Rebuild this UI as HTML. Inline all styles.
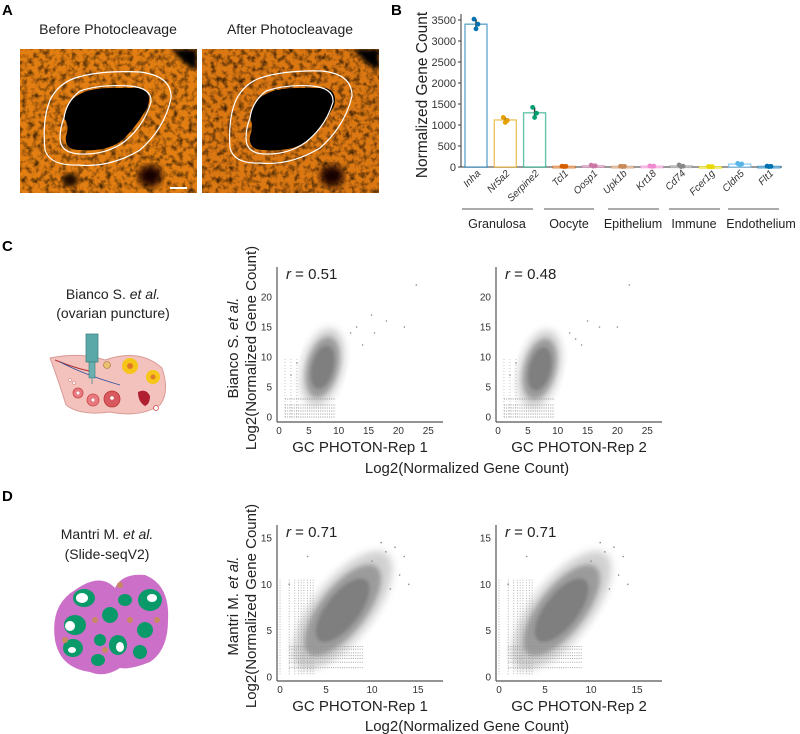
<!DOCTYPE html>
<html><head><meta charset="utf-8">
<style>
html,body{margin:0;padding:0;background:#fff;}
svg{display:block;font-family:"Liberation Sans",Arial,sans-serif;}
</style></head>
<body>
<svg id="fig" width="800" height="734" viewBox="0 0 800 734">
<defs>
  <filter id="tex" x="0" y="0" width="100%" height="100%">
    <feTurbulence type="fractalNoise" baseFrequency="0.18" numOctaves="3" seed="4" result="n"/>
    <feColorMatrix in="n" type="matrix" values="0 0 0 0 0  0 0 0 0 0  0 0 0 0 0  0 0 0 -2.2 1.25" result="d"/>
    <feComposite in="d" in2="SourceGraphic" operator="in"/>
  </filter>
  <filter id="blur1"><feGaussianBlur stdDeviation="1.5"/></filter>
  <filter id="blur2"><feGaussianBlur stdDeviation="2.5"/></filter>
  <filter id="blur4"><feGaussianBlur stdDeviation="4"/></filter>
  <filter id="blur6"><feGaussianBlur stdDeviation="6"/></filter>
  <clipPath id="clipA1"><rect x="20" y="49" width="177" height="144"/></clipPath>
  <clipPath id="clipA2"><rect x="202" y="49" width="177" height="144"/></clipPath>
</defs>

<text x="2" y="15" font-size="15" font-weight="bold">A</text>
<text x="391" y="15" font-size="15" font-weight="bold">B</text>
<text x="2" y="251" font-size="15" font-weight="bold">C</text>
<text x="2" y="501" font-size="15" font-weight="bold">D</text>

<text x="108" y="34" font-size="14" text-anchor="middle" fill="#222">Before Photocleavage</text>
<text x="290" y="34" font-size="14" text-anchor="middle" fill="#222">After Photocleavage</text>

<g clip-path="url(#clipA1)">
  <rect x="20" y="49" width="177" height="144" fill="#e27e12"/>
  <rect x="20" y="49" width="177" height="144" fill="#3a1a00" filter="url(#tex)" opacity="0.7"/>
  <path d="M170,49 L197,49 L197,70 Q185,66 178,56 Z" fill="#000" filter="url(#blur2)"/>
  <ellipse cx="150" cy="176" rx="12" ry="11" fill="#120600" filter="url(#blur4)"/>
  <ellipse cx="70" cy="180" rx="8" ry="7" fill="#201000" filter="url(#blur2)"/>
  <path d="M68,104 Q80,88 110,88 L140,88 Q152,92 148,106 Q136,128 120,142 Q104,152 80,150 Q64,150 66,136 Q70,126 64,118 Z" fill="#000"/>
  <path d="M75,78 Q100,70 140,72 Q172,76 171,98 Q165,128 140,150 Q110,168 78,165 Q50,166 45,150 Q42,120 50,100 Q58,84 75,78 Z" fill="none" stroke="#fff" stroke-width="1.2"/>
  <path d="M80,91 Q100,84 130,86 Q152,88 151,102 Q144,126 124,142 Q106,155 80,154 Q60,153 60,138 Q60,128 64,118 Q66,102 80,91 Z" fill="none" stroke="#fff" stroke-width="1.2"/>
  <rect x="170" y="187" width="17" height="2" fill="#fff"/>
</g>
<g clip-path="url(#clipA2)">
  <rect x="202" y="49" width="177" height="144" fill="#dc7812"/>
  <rect x="202" y="49" width="177" height="144" fill="#3a1a00" filter="url(#tex)" opacity="0.75"/>
  <path d="M352,49 L379,49 L379,70 Q367,66 360,56 Z" fill="#000" filter="url(#blur2)"/>
  <ellipse cx="332" cy="176" rx="12" ry="11" fill="#120600" filter="url(#blur4)"/>
  <path d="M254,104 Q266,88 296,88 L326,88 Q338,92 334,106 Q322,128 306,142 Q290,152 264,150 Q248,150 250,136 Q254,126 250,118 Z" fill="#000"/>
  <path d="M260,78 Q285,70 322,71 Q352,74 352,96 Q345,126 320,148 Q290,166 260,163 Q234,164 230,148 Q228,118 236,100 Q244,84 260,78 Z" fill="none" stroke="#fff" stroke-width="1.2"/>
  <path d="M266,91 Q286,84 312,86 Q334,88 333,102 Q326,126 306,142 Q288,155 264,154 Q246,153 246,138 Q246,128 250,118 Q252,102 266,91 Z" fill="none" stroke="#fff" stroke-width="1.2"/>
</g>

<g id="barChart"></g>

<text x="113" y="299" font-size="14" text-anchor="middle" fill="#222">Bianco S. <tspan font-style="italic">et al.</tspan></text>
<text x="113" y="318" font-size="14" text-anchor="middle" fill="#222">(ovarian puncture)</text>
<g>
  <path d="M50,358 Q80,352 105,360 Q140,348 162,368 Q170,392 160,405 Q140,418 110,412 Q80,416 66,405 Q60,385 50,358 Z" fill="#f3c2bd" stroke="#d99a95" stroke-width="1"/>
  <path d="M55,360 Q80,370 95,372" stroke="#b03030" fill="none" stroke-width="1"/>
  <path d="M60,362 Q85,375 120,385" stroke="#3050a0" fill="none" stroke-width="0.8"/>
  <circle cx="78" cy="393" r="5" fill="#e57b80" stroke="#c44" stroke-width="0.8"/><circle cx="78" cy="393" r="1.5" fill="#fff"/>
  <circle cx="93" cy="400" r="6" fill="#e57b80" stroke="#c44" stroke-width="0.8"/><circle cx="93" cy="400" r="1.5" fill="#fff"/>
  <circle cx="112" cy="399" r="8" fill="#d85a60" stroke="#b33" stroke-width="0.8"/><circle cx="112" cy="398" r="1.8" fill="#fff"/>
  <circle cx="130" cy="366" r="8" fill="#f5c518"/><circle cx="130" cy="366" r="3" fill="#e07a2a"/>
  <circle cx="153" cy="377" r="7" fill="#f5c518"/><circle cx="153" cy="377" r="2.5" fill="#e07a2a"/>
  <circle cx="107" cy="365" r="3.5" fill="#e8c070" stroke="#a07030" stroke-width="0.6"/>
  <path d="M138,392 Q146,388 150,396 Q150,404 145,406 Q138,402 138,392 Z" fill="#b02030"/>
  <circle cx="156" cy="408" r="2.5" fill="#fff" stroke="#d44" stroke-width="0.8"/>
  <circle cx="70" cy="380" r="1.6" fill="#fff" stroke="#d66" stroke-width="0.5"/><circle cx="74" cy="383" r="1.6" fill="#fff" stroke="#d66" stroke-width="0.5"/>
  <rect x="86" y="334" width="12" height="28" fill="#5aa8a8" stroke="#3a7a7a" stroke-width="0.7"/>
  <rect x="89" y="362" width="6" height="16" fill="#6ab0b0" stroke="#3a7a7a" stroke-width="0.6"/>
  <rect x="91" y="378" width="2" height="6" fill="#aaa"/>
</g>

<text x="107" y="539" font-size="14" text-anchor="middle" fill="#222">Mantri M. <tspan font-style="italic">et al.</tspan></text>
<text x="107" y="559" font-size="14" text-anchor="middle" fill="#222">(Slide-seqV2)</text>
<g>
  <path d="M75,590 Q100,572 115,588 Q122,573 145,575 Q170,585 168,620 Q168,650 150,662 Q130,670 120,668 Q105,678 90,672 Q60,668 55,640 Q50,605 75,590 Z" fill="#cc6fc8"/>
  <g fill="#0a9a6a">
    <ellipse cx="84" cy="598" rx="11" ry="9"/><ellipse cx="75" cy="625" rx="11" ry="10"/>
    <ellipse cx="73" cy="648" rx="10" ry="9"/><ellipse cx="110" cy="615" rx="8" ry="8"/>
    <ellipse cx="125" cy="600" rx="7" ry="6"/><ellipse cx="150" cy="600" rx="12" ry="11"/>
    <ellipse cx="145" cy="630" rx="8" ry="8"/><ellipse cx="118" cy="645" rx="9" ry="10"/>
    <ellipse cx="140" cy="652" rx="7" ry="7"/><ellipse cx="100" cy="640" rx="6" ry="6"/>
    <ellipse cx="98" cy="660" rx="7" ry="6"/>
  </g>
  <g fill="#fff">
    <ellipse cx="82" cy="598" rx="6" ry="5"/><ellipse cx="70" cy="626" rx="5" ry="5"/>
    <ellipse cx="72" cy="650" rx="4" ry="3"/><ellipse cx="152" cy="598" rx="5" ry="4"/>
    <ellipse cx="120" cy="647" rx="4" ry="5"/>
  </g>
  <g fill="#c88860">
    <circle cx="95" cy="620" r="3"/><circle cx="130" cy="620" r="3"/><circle cx="65" cy="640" r="3"/>
    <circle cx="105" cy="650" r="3"/><circle cx="157" cy="620" r="3"/><circle cx="120" cy="585" r="3"/>
  </g>
</g>

<g id="scatters"></g>
</svg>

<script>
var NS = "http://www.w3.org/2000/svg";
function mk(tag, attrs, parent) {
  var e = document.createElementNS(NS, tag);
  for (var k in attrs) e.setAttribute(k, attrs[k]);
  if (parent) parent.appendChild(e);
  return e;
}

/* ---------- Panel B data ---------- */
var genes = ["Inha","Nr5a2","Serpine2","Tcl1","Oosp1","Upk1b","Krt18","Cd74","Fcer1g","Cldn5","Flt1"];
var geneMeans = [3400,1120,1290,15,30,15,20,25,8,70,15];
var geneRep1 = [3520,1180,1420,18,45,18,25,50,10,85,20];
var geneRep2 = [3290,1060,1180,12,20,12,15,10,6,55,10];
var geneRep3 = [3400,1110,1280,15,28,15,20,20,8,70,15];
var geneColors = ["#0072B2","#E69F00","#009E73","#D55E00","#CC79A7","#C98A5A","#F08AD0","#888888","#E8D800","#56B4E9","#0072B2"];
var barTicks = [0,500,1000,1500,2000,2500,3000,3500];
var groupNames = ["Granulosa","Oocyte","Epithelium","Immune","Endothelium"];
var groupStart = [0,3,5,7,9];
var groupEnd = [2,4,6,8,10];

(function(){
  var g = document.getElementById("barChart");
  var axX = 461, y0 = 167, yTop = 20, maxV = 3500;
  var step = 29.3, first = 476, bw = 22;
  function yS(v){ return y0 - v/maxV*(y0-yTop); }
  function xS(i){ return first + i*step; }
  mk("line",{x1:axX,y1:14,x2:axX,y2:y0,stroke:"#333","stroke-width":1},g);
  var xl = mk("line",{x1:axX,y1:y0,x2:782,y2:y0,stroke:"#333","stroke-width":1},g);
  
  
  barTicks.forEach(function(t){
    var y = yS(t);
    mk("line",{x1:axX-3,y1:y,x2:axX,y2:y,stroke:"#333"},g);
    var tx = mk("text",{x:axX-5,y:y+4,"font-size":11,"text-anchor":"end",fill:"#333"},g);
    tx.textContent = t;
    
    
  });
  var yl = mk("text",{x:0,y:0,"font-size":15.5,"text-anchor":"middle",fill:"#222",transform:"translate(427,95) rotate(-90)"},g);
  yl.textContent = "Normalized Gene Count";
  
  
  genes.forEach(function(name,i){
    var cx = xS(i), c = geneColors[i];
    var r = mk("rect",{x:cx-bw/2,y:yS(geneMeans[i]),width:bw,height:Math.max(1.5,y0-yS(geneMeans[i])),fill:"#fff",stroke:c,"stroke-opacity":0.6,"stroke-width":1.4},g);
    
    
    var hi = Math.max(geneRep1[i],geneRep2[i],geneRep3[i]), lo = Math.min(geneRep1[i],geneRep2[i],geneRep3[i]);
    mk("line",{x1:cx,y1:yS(hi),x2:cx,y2:yS(lo),stroke:"#333","stroke-width":1.5},g);
    [geneRep1[i],geneRep2[i],geneRep3[i]].forEach(function(v,k){
      var d = mk("circle",{cx:cx+(k-1)*2,cy:yS(v),r:2.4,fill:c},g);
      
      
    });
    var lab = mk("text",{x:0,y:0,"font-size":10,"font-style":"italic","text-anchor":"end",fill:"#333",transform:"translate("+(cx+5)+",174) rotate(-45)"},g);
    lab.textContent = name;
    
    
  });
  var lineX1 = [462,544,608,669,728], lineX2 = [533,594,659,720,779];
  var labelCx = [497,569,633,694,761];
  groupNames.forEach(function(n,k){
    mk("line",{x1:lineX1[k],y1:209,x2:lineX2[k],y2:209,stroke:"#555","stroke-width":1},g);
    var t = mk("text",{x:labelCx[k],y:228,"font-size":12.5,"text-anchor":"middle",fill:"#222"},g);
    t.textContent = n;
    
    
  });
})();

/* ---------- Scatter data ---------- */
var panelNames = ["bianco-rep1","bianco-rep2","mantri-rep1","mantri-rep2"];
var rValues = ["0.51","0.48","0.71","0.71"];
var repLabels = ["GC PHOTON-Rep 1","GC PHOTON-Rep 2","GC PHOTON-Rep 1","GC PHOTON-Rep 2"];
var xTicksC = [0,5,10,15,20,25];
var yTicksC = [0,5,10,15,20];
var xTicksD = [0,5,10,15];
var yTicksD = [0,5,10,15];
var cloudCx = [7.3,7.0,6.8,6.8];
var cloudCy = [8.3,8.0,7.2,7.2];
var cloudSx = [2.3,2.3,5.2,5.2];
var cloudSy = [4.6,4.6,2.2,2.2];
var cloudTilt = [14,14,-52,-52];
var outX1 = [15.5,18,21,23,12,14,3,2,13,16];
var outY1 = [17,16,15,22,14,12,9,7,15,14];
var outX2 = [15,17,20,22,12,14,3,2,13];
var outY2 = [16,15,15,22,14,12,9,7,13];
var outXD = [11,12.5,13.5,11.5,10,13,12,14,3,1];
var outYD = [14.5,14,13,13.5,12.5,11,9.5,10,13,10];

(function(){
  var g = document.getElementById("scatters");
  var cfg = [
    {ax:277,bottom:422,top:267,right:443,x0:279,xs:5.97,y0:417,ys:6,xt:xTicksC,yt:yTicksC,ox:outX1,oy:outY1,strH:[0,0.5,1,1.5,2,3],strX:[1,9.5],vert:false},
    {ax:496,bottom:422,top:267,right:662,x0:498,xs:5.97,y0:417,ys:6,xt:xTicksC,yt:yTicksC,ox:outX2,oy:outY2,strH:[0,0.5,1,1.5,2,3],strX:[1,9.5],vert:false},
    {ax:277,bottom:681,top:525,right:443,x0:280,xs:9.2,y0:677,ys:9.27,xt:xTicksD,yt:yTicksD,ox:outXD,oy:outYD,strH:[1,1.6,2,2.3,2.6,3,3.3],strX:[1,9],vert:true},
    {ax:496,bottom:681,top:525,right:662,x0:499,xs:9.2,y0:677,ys:9.27,xt:xTicksD,yt:yTicksD,ox:outXD,oy:outYD,strH:[1,1.6,2,2.3,2.6,3,3.3],strX:[1,9],vert:true}
  ];
  cfg.forEach(function(c,i){
    var p = mk("g",{},g);
    
    
    function xS(v){ return c.x0 + v*c.xs; }
    function yS(v){ return c.y0 - v*c.ys; }
    c.strH.forEach(function(v){
      mk("line",{x1:xS(c.strX[0]),y1:yS(v),x2:xS(c.strX[1]),y2:yS(v),stroke:"#888","stroke-width":0.9,"stroke-dasharray":"1 1.2",opacity:0.85},p);
    });
    if (c.vert) {
      [0,1,1.6,2,2.3,2.6,3,3.3,3.6].forEach(function(v){
        mk("line",{x1:xS(v),y1:yS(0.3),x2:xS(v),y2:yS(10.5),stroke:"#999","stroke-width":0.9,"stroke-dasharray":"1 1.6",opacity:0.8},p);
      });
    } else {
      [1,2,3].forEach(function(v){
        mk("line",{x1:xS(v),y1:yS(0),x2:xS(v),y2:yS(10),stroke:"#aaa","stroke-width":0.8,"stroke-dasharray":"1 2",opacity:0.8},p);
      });
    }
    var cx = xS(cloudCx[i]), cy = yS(cloudCy[i]);
    var rx = cloudSx[i]*c.xs, ry = cloudSy[i]*c.ys;
    var tr = "rotate("+cloudTilt[i]+" "+cx+" "+cy+")";
    mk("ellipse",{cx:cx,cy:cy,rx:rx*1.5,ry:ry*1.45,fill:"#999",opacity:0.45,filter:"url(#blur4)",transform:tr},p);
    mk("ellipse",{cx:cx,cy:cy,rx:rx*1.15,ry:ry*1.12,fill:"#8f8f8f",opacity:0.8,filter:"url(#blur2)",transform:tr},p);
    var core = mk("ellipse",{cx:cx,cy:cy,rx:rx*0.8,ry:ry*0.8,fill:"#7f7f7f",filter:"url(#blur1)",transform:tr},p);
    
    
    c.ox.forEach(function(v,k){
      var d = mk("circle",{cx:xS(v),cy:yS(c.oy[k]),r:0.8,fill:"#888"},p);
      
      
    });
    mk("line",{x1:c.ax,y1:c.top,x2:c.ax,y2:c.bottom,stroke:"#555","stroke-width":1.2},p);
    mk("line",{x1:c.ax,y1:c.bottom,x2:c.right,y2:c.bottom,stroke:"#555","stroke-width":1.2},p);
    c.xt.forEach(function(t){
      var tx = mk("text",{x:xS(t),y:c.bottom+12,"font-size":10,"text-anchor":"middle",fill:"#333"},p);
      tx.textContent = t;
      
      
    });
    c.yt.forEach(function(t){
      var tx = mk("text",{x:c.ax-5,y:yS(t)+3.5,"font-size":10,"text-anchor":"end",fill:"#333"},p);
      tx.textContent = t;
      
      
    });
    var rl = mk("text",{x:c.ax+9,y:c.top+12,"font-size":15,fill:"#222"},p);
    rl.innerHTML = '<tspan font-style="italic">r</tspan> = '+rValues[i];
    
    
    var tl = mk("text",{x:(c.ax+c.right)/2,y:c.bottom+30,"font-size":15,"text-anchor":"middle",fill:"#222"},p);
    tl.textContent = repLabels[i];
    
    
  });
  [[473,"bianco"],[731,"mantri"]].forEach(function(a){
    var t = mk("text",{x:467,y:a[0],"font-size":15,"text-anchor":"middle",fill:"#222"},g);
    t.textContent = "Log2(Normalized Gene Count)";
    
    
  });
  [[348,"Bianco S. "],[606,"Mantri M. "]].forEach(function(a){
    var t1 = mk("text",{x:0,y:0,"font-size":15,"text-anchor":"middle",fill:"#222",transform:"translate(238,"+a[0]+") rotate(-90)"},g);
    t1.innerHTML = a[1]+'<tspan font-style="italic">et al.</tspan>';
    
    
    var t2 = mk("text",{x:0,y:0,"font-size":15,"text-anchor":"middle",fill:"#222",transform:"translate(256,"+a[0]+") rotate(-90)"},g);
    t2.textContent = "Log2(Normalized Gene Count)";
    
    
  });
})();
</script>
</body></html>
